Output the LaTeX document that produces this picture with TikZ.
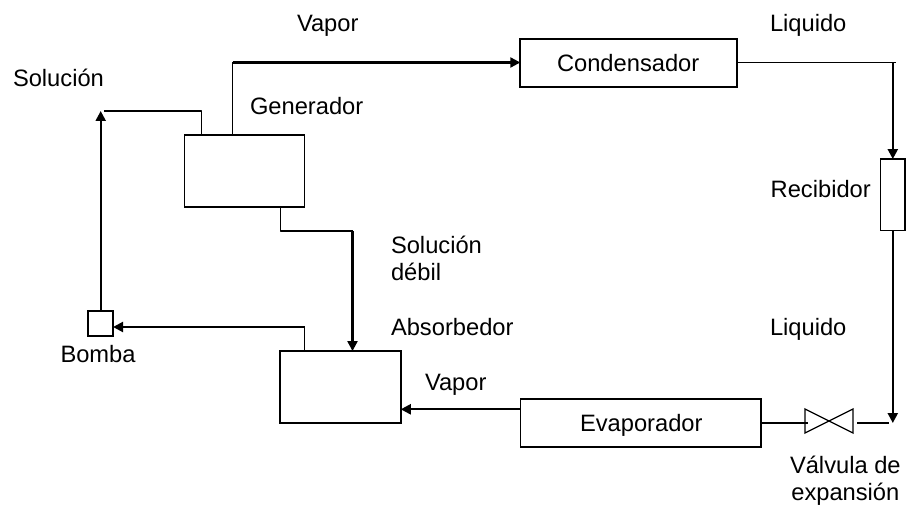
\documentclass[tikz,border=0pt]{standalone}
\usepackage{fontspec}
\setmainfont{Liberation Sans}
\usetikzlibrary{arrows.meta}
\tikzset{
  box/.style={draw=black,line width=1.8pt,fill=white,inner sep=0pt,outer sep=0pt},
  lbl/.style={anchor=base west,inner sep=0pt,outer sep=0pt,font=\fontsize{23.7}{26.5}\selectfont,text=black},
  pipe/.style={draw=black,line width=1.8pt},
  flow/.style={draw=black,line width=2.2pt,-{Triangle[length=10pt,width=10pt]}}
}
\begin{document}
\begin{tikzpicture}[x=1pt,y=-1pt]
\useasboundingbox (0,0) rectangle (910,505);
% equipment
\node[box,minimum width=120pt,minimum height=72pt] (gen) at (244.5,171) {};
\node[box,minimum width=217pt,minimum height=48pt] (cond) at (628.8,63) {};
\node[lbl] (condt) at (557,71.7) {Condensador};
\node[box,minimum width=24.5pt,minimum height=71.5pt] (rec) at (892.8,194.8) {};
\node[box,minimum width=240.5pt,minimum height=48pt] (evap) at (640.7,423) {};
\node[lbl] (evapt) at (580,431.7) {Evaporador};
\node[box,minimum width=120.5pt,minimum height=72.3pt] (abs) at (340.5,387.2) {};
\node[box,minimum width=24.7pt,minimum height=24.7pt] (bomba) at (100.7,323.7) {};
\node[inner sep=0pt,outer sep=0pt,minimum width=48pt,minimum height=24pt] (valve) at (829,421) {};
\draw[line width=1.3pt,line join=miter] (valve.north west) -- (valve.south east) -- (valve.north east) -- (valve.south west) -- cycle;
% junction coordinates
\coordinate (solA) at (104,111);
\coordinate (solB) at (201.5,111);
\coordinate (vapA) at (232.5,62.5);
\coordinate (liqA) at (896,62.5);
\coordinate (liqB) at (892.8,62.5);
\coordinate (liqC) at (892.8,423);
\coordinate (genA) at (280.5,231);
\coordinate (genB) at (352.5,231);
\coordinate (absA) at (304.5,327);
\coordinate (valL) at (808,423);
\coordinate (valR) at (857,423);
\coordinate (valRend) at (889,423);
% connectors
\draw[flow] (bomba.north) -- (bomba.north |- solA);
\draw[pipe,line join=round] (solA) -- (solB) -- (solB |- gen.north);
\draw[pipe,line join=round] (vapA |- gen.north) -- (vapA);
\draw[flow] (vapA) -- (vapA -| cond.west);
\draw[pipe] (cond.east |- liqA) -- (liqA);
\draw[flow] (liqB) -- (rec.north);
\draw[flow] (rec.south) -- (liqC);
\draw[pipe] (valR) -- (valRend);
\draw[pipe] (valL -| evap.east) -- (valL);
\draw[pipe,line join=round] (genA |- gen.south) -- (genA) -- (genB);
\draw[flow] (genB) -- (genB |- abs.north);
\draw[pipe,line join=round] (absA |- abs.north) -- (absA);
\draw[flow] (absA) -- (absA -| bomba.east);
\draw[flow] (evap.west |- 0,409.3) -- (abs.east |- 0,409.3);
% labels
\node[lbl] (l1) at (297,32) {Vapor};
\node[lbl] (l2) at (13,87) {Solución};
\node[lbl] (l3) at (250,115) {Generador};
\node[lbl] (l4) at (770,32) {Liquido};
\node[lbl] (l5) at (770.7,197) {Recibidor};
\node[lbl,align=left] (l6) at (391,280) {Solución\\débil};
\node[lbl] (l7) at (391,335) {Absorbedor};
\node[lbl] (l8) at (425,390.7) {Vapor};
\node[lbl] (l9) at (60.5,362.7) {Bomba};
\node[lbl] (l10) at (770,335) {Liquido};
\node[lbl,align=center] (l11) at (790,500) {Válvula de\\expansión};
\end{tikzpicture}
\end{document}
